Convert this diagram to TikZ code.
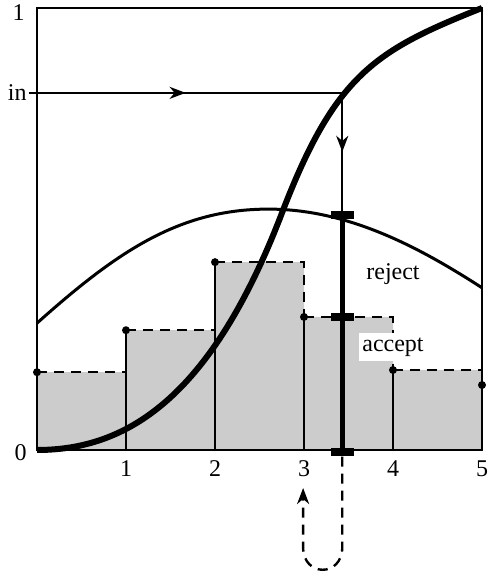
\documentclass[tikz,border=0pt]{standalone}
\usepackage{fontspec}
\setmainfont{Liberation Serif}
\usetikzlibrary{arrows.meta,decorations.markings}

\begin{document}
\begin{tikzpicture}[x=44.5pt, y=221pt, every node/.style={font=\large},
	frame/.style={line width=0.8pt},
	hist/.style={line width=1.2pt},
	dash line/.style={line width=1.2pt, dash pattern=on 5pt off 3.5pt},
	pt/.style={circle, fill, inner sep=0pt, minimum size=4pt},
	probe/.style={rectangle, fill, inner sep=0pt, minimum width=11.5pt, minimum height=4pt},
	tip/.style={-{Stealth[length=8pt, width=6pt, inset=2.5pt]}},
	mid tip/.style={postaction={decorate}, decoration={markings, mark=at position 0.5 with {\arrow{Stealth[length=8pt, width=6pt, inset=2.5pt]}}}}]
	\useasboundingbox (-18.5pt,-63.5pt) rectangle (225pt,225pt);
	\fill[black!20] (0,0) -- (0,0.176) -- (1,0.176) -- (1,0.271) -- (2,0.271) -- (2,0.425) -- (3,0.425) -- (3,0.301) -- (4,0.301) -- (4,0.181) -- (5,0.181) -- (5,0) -- cycle;
	\draw[frame] (0,0) rectangle (5,1);
	\draw[dash line] (0,0.176) -- (1,0.176);
	\draw[dash line] (1,0.271) -- (2,0.271);
	\draw[dash line] (2,0.425) -- (3,0.425) -- (3,0.301);
	\draw[dash line] (3,0.301) -- (4,0.301) -- (4,0.181);
	\draw[dash line] (4,0.181) -- (5,0.181);
	\foreach \x/\h in {1/0.271, 2/0.425, 3/0.301, 4/0.181}
		\draw[hist] (\x,0) -- (\x,\h);
	\foreach \x/\h in {0/0.176, 1/0.271, 2/0.425, 3/0.301, 4/0.181, 5/0.147}
		\node[pt] (d\x) at (\x,\h) {};
	\draw[line width=1.5pt] (0,0.287) .. controls (0.9,0.449) and (1.6,0.545) .. (2.6,0.545) .. controls (3.5,0.545) and (4.3,0.458) .. (5,0.367);
	\draw[line width=3pt] (0,0) .. controls (1,0) and (1.95,0.115) .. (2.75,0.535) .. controls (3.35,0.85) and (3.8,0.904) .. (5,1);
	\coordinate (hit) at (3.43,0.808);
	\coordinate (back) at (2.99,-0.086);
	\node[probe] (m0) at (3.43,-0.005) {};
	\node[probe] (m1) at (3.43,0.302) {};
	\node[probe] (m2) at (3.43,0.531) {};
	\draw[line width=2.5pt] (m0.center) -- (m2.center);
	\node[anchor=east, inner sep=1pt] (in) at (-0.09,0.808) {in};
	\node[anchor=east, inner sep=6pt] (one) at (0,0.99) {1};
	\node[anchor=east, inner sep=5pt] (zero) at (0,-0.006) {0};
	\foreach \i in {1,...,5}
		\node[anchor=north, inner sep=5pt] (t\i) at (\i,0) {\i};
	\draw[hist, mid tip] (in.east) -- (hit);
	\draw[hist, mid tip] (hit) -- (m2.north);
	\draw[dash line, tip] (m0.south) -- (3.43,-0.22) .. controls (3.43,-0.288) and (2.99,-0.288) .. (2.99,-0.22) -- (back);
	\node (reject) at (4,0.397) {reject};
	\node[fill=white, inner xsep=1.5pt, inner ysep=2.2pt] (accept) at (4,0.233) {accept};
\end{tikzpicture}
\end{document}
